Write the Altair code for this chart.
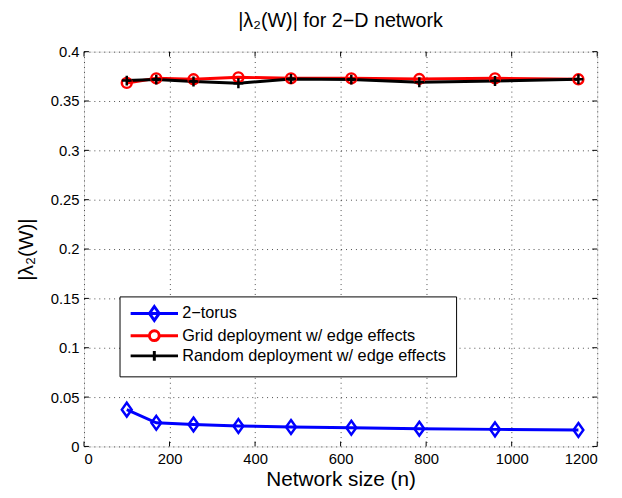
import altair as alt
import pandas as pd

# ---- data ----
n_values = [100, 169, 256, 361, 484, 625, 784, 961, 1156]
torus = [0.0373, 0.0240, 0.0223, 0.0207, 0.0197, 0.0190, 0.0180, 0.0173, 0.0167]
grid_dep = [0.3683, 0.3730, 0.3720, 0.3740, 0.3730, 0.3730, 0.3723, 0.3730, 0.3720]
random_dep = [0.3707, 0.3717, 0.3697, 0.3680, 0.3723, 0.3717, 0.3690, 0.3703, 0.3720]

series_names = ["2\u2212torus", "Grid deployment w/ edge effects", "Random deployment w/ edge effects"]
series_colors = ["#0000ff", "#ff0000", "#000000"]
x_ticks = [0, 200, 400, 600, 800, 1000, 1200]
y_ticks = [0, 0.05, 0.1, 0.15, 0.2, 0.25, 0.3, 0.35, 0.4]

# marker shapes (chart) and legend symbols (line + marker)
marker_paths = [
    "M0,-1L0.714,0L0,1L-0.714,0Z",
    "circle",
    "M-1,0H1M0,-1V1",
]
marker_sizes = [196, 100, 100]
legend_paths = [
    "M-1,0H7M3,-1.17L3.83,0L3,1.17L2.17,0Z",
    "M-1,0H2.17M3.83,0H7M3.83,0A0.83,0.83 0 1,1 2.17,0A0.83,0.83 0 1,1 3.83,0",
    "M-1,0H7M3,-0.83V0.83",
]

rows = []
for name, vals in zip(series_names, [torus, grid_dep, random_dep]):
    for n, v in zip(n_values, vals):
        rows.append({"n": n, "value": v, "series": name})
df = pd.DataFrame(rows)

FONT = "Liberation Sans"
W, H = 520, 400
TICK = 5

x_scale = alt.Scale(domain=[0, 1200], nice=False)
y_scale = alt.Scale(domain=[0, 0.4], nice=False)

x_enc = alt.X("n:Q", scale=x_scale,
              axis=alt.Axis(values=x_ticks, format="d", title="Network size (n)",
                            titleFontSize=21, titleFontWeight="normal", titlePadding=3,
                            labelFontSize=15, labelPadding=5, tickSize=0, domain=False,
                            grid=True, gridColor="#000000", gridOpacity=0.7,
                            gridDash=[1, 4], labelColor="#000000", titleColor="#000000"))
y_enc = alt.Y("value:Q", scale=y_scale,
              axis=alt.Axis(values=y_ticks, format=".2~f", title="|\u03bb\u2082(W)|",
                            titleFontSize=21, titleFontWeight="normal", titlePadding=14,
                            labelFontSize=15, labelPadding=5, tickSize=0, domain=False,
                            grid=True, gridColor="#000000", gridOpacity=0.7,
                            gridDash=[1, 4], labelColor="#000000", titleColor="#000000"))

color_scale = alt.Scale(domain=series_names, range=series_colors)

legend_def = alt.Legend(
    title=None, orient="none", legendX=36, legendY=248,
    fillColor="#ffffff", strokeColor="#000000", padding=9,
    symbolSize=144, symbolStrokeWidth=3, symbolOpacity=1, symbolFillColor="transparent",
    labelFontSize=16.5, labelOffset=38, rowPadding=-2.5, labelFont=FONT,
    labelColor="#000000", labelLimit=400,
)

base = alt.Chart(df)

lines = base.mark_line(strokeWidth=3).encode(
    x=x_enc, y=y_enc,
    color=alt.Color("series:N", scale=color_scale, legend=legend_def),
    detail="series:N",
)

marker_layers = []
for name, col, shp, sz in zip(series_names, series_colors, marker_paths, marker_sizes):
    marker_layers.append(
        base.transform_filter(alt.datum.series == name).mark_point(
            shape=shp, size=sz, filled=False, strokeWidth=2.5, color=col, opacity=1
        ).encode(x="n:Q", y="value:Q")
    )

legend_layer = base.mark_point(size=0, filled=False).encode(
    x="n:Q", y="value:Q",
    color=alt.Color("series:N", scale=color_scale, legend=legend_def),
    shape=alt.Shape("series:N", scale=alt.Scale(domain=series_names, range=legend_paths),
                    legend=legend_def),
)

# inward tick marks on all four sides (MATLAB style)
xt = alt.Chart(pd.DataFrame({"t": x_ticks}))
yt = alt.Chart(pd.DataFrame({"t": y_ticks}))
tick_layers = [
    xt.mark_rule(color="#000000", strokeWidth=1).encode(
        x=alt.X("t:Q", scale=x_scale), y=alt.value(H), y2=alt.value(H - TICK)),
    xt.mark_rule(color="#000000", strokeWidth=1).encode(
        x=alt.X("t:Q", scale=x_scale), y=alt.value(0), y2=alt.value(TICK)),
    yt.mark_rule(color="#000000", strokeWidth=1).encode(
        y=alt.Y("t:Q", scale=y_scale), x=alt.value(0), x2=alt.value(TICK)),
    yt.mark_rule(color="#000000", strokeWidth=1).encode(
        y=alt.Y("t:Q", scale=y_scale), x=alt.value(W), x2=alt.value(W - TICK)),
]

chart = alt.layer(lines, *marker_layers, legend_layer, *tick_layers).properties(
    width=W, height=H,
    title=alt.Title("|\u03bb\u2082(W)| for 2\u2212D network", fontSize=20, fontWeight="normal",
                    font=FONT, offset=14, color="#000000"),
    padding={"left": 77, "top": 41, "right": 17, "bottom": 48},
    autosize=alt.AutoSizeParams(type="none"),
).configure_view(stroke="#000000", strokeWidth=1).configure(font=FONT).configure_axis(
    labelFont=FONT, titleFont=FONT
)

chart.save("out.html", embed_options={"renderer": "svg", "actions": False})
